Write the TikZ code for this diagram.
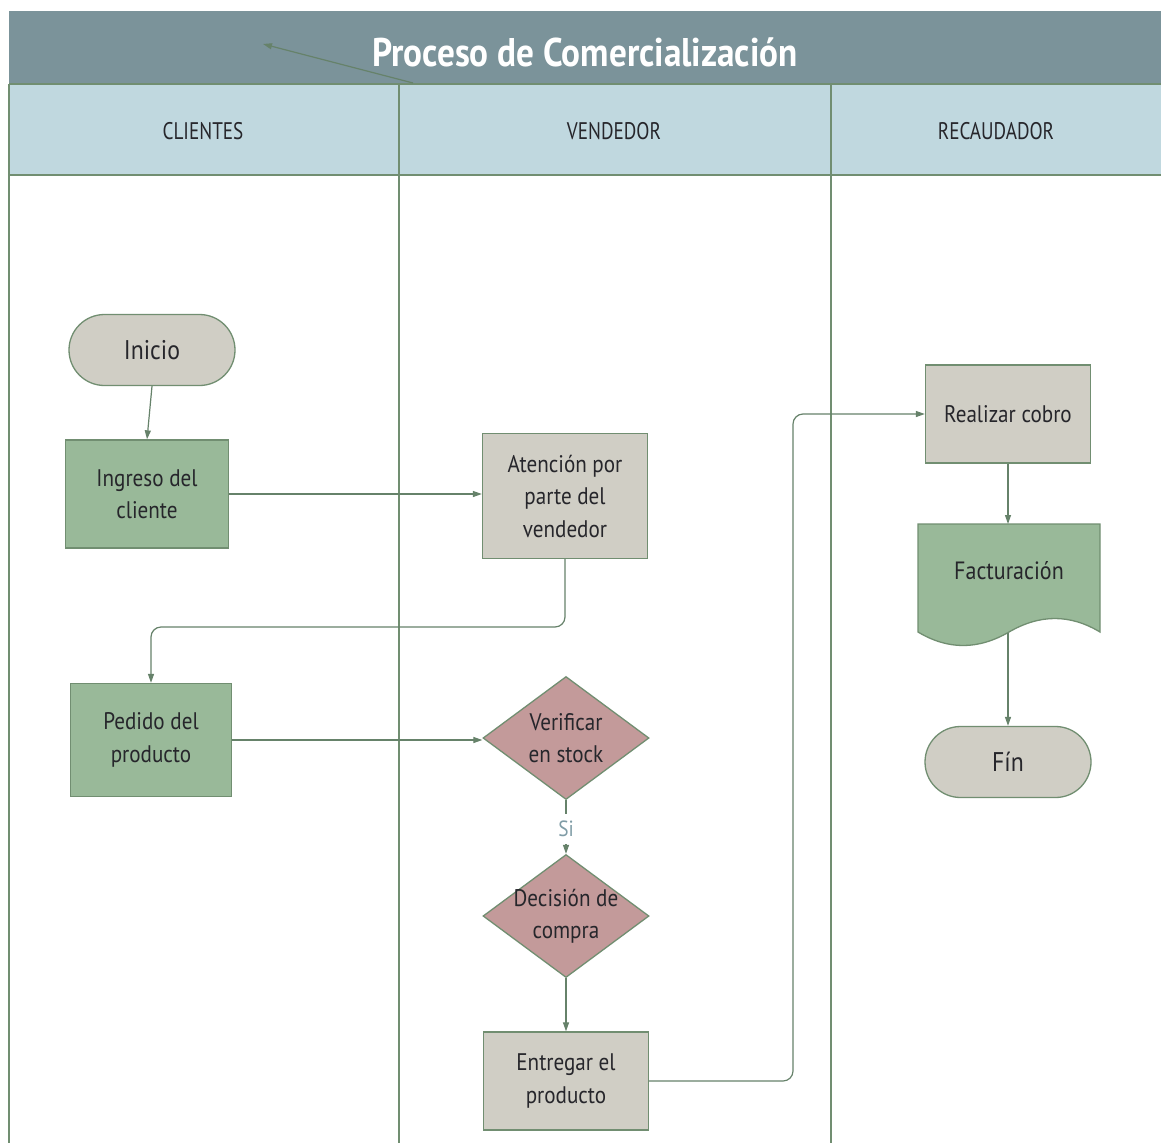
\documentclass[tikz,border=0pt]{standalone}
\usepackage{fontspec}
\setmainfont{PT Sans}[FakeStretch=0.88]
\newfontfamily\headfont{PT Sans}[FakeStretch=0.8]
\usetikzlibrary{shapes.geometric,arrows.meta}
\definecolor{titlebg}{HTML}{7B939A}
\definecolor{headbg}{HTML}{C0D8DF}
\definecolor{lanecol}{HTML}{718E71}
\definecolor{linkcol}{HTML}{66826A}
\definecolor{greyfill}{HTML}{D0CEC5}
\definecolor{greenfill}{HTML}{99B999}
\definecolor{pinkfill}{HTML}{C39A9A}
\definecolor{inkcol}{HTML}{26262B}
\definecolor{silabel}{HTML}{7F9CA6}
\tikzset{
  x=1pt, y=-1pt,
  base/.style={draw=lanecol, line width=1.3pt, text=inkcol, align=center,
    font=\fontsize{24}{32.5}\selectfont, inner sep=0pt},
  greybox/.style={base, rectangle, fill=greyfill},
  greenbox/.style={base, rectangle, fill=greenfill},
  term/.style={base, rectangle, rounded corners=35.5pt, fill=greyfill,
    minimum width=166pt, minimum height=71pt, font=\fontsize{27}{32}\selectfont},
  choice/.style={base, diamond, fill=pinkfill, aspect=1.36, inner sep=-30pt,
    minimum width=166pt, minimum height=123pt},
  link/.style={draw=linkcol, line width=1.2pt, rounded corners=10pt,
    -{Triangle[length=9pt,width=6pt]}},
  lane/.style={draw=lanecol, line width=1.3pt},
  headtext/.style={text=inkcol, font=\headfont\fontsize{24}{26}\selectfont}
}
\begin{document}
\begin{tikzpicture}
\useasboundingbox (0,0) rectangle (1161,1143);
\fill[white] (0,0) rectangle (1161,1143);

% title band and lane headers
\fill[titlebg] (9,11) rectangle (1161,84);
\fill[headbg] (9,84) rectangle (1161,175);
\node[text=white, font=\fontsize{40}{44}\selectfont\bfseries] (title) at (585,52) {Proceso de Comercialización};
\draw[lane] (9,84) -- (1161,84);
\draw[lane] (9,175) -- (1161,175);
\draw[lane] (9,84) -- (9,1143);
\draw[lane] (399,84) -- (399,1143);
\draw[lane] (831,84) -- (831,1143);
\node[headtext] (hcli) at (203,131) {CLIENTES};
\node[headtext] (hven) at (614,131) {VENDEDOR};
\node[headtext] (hrec) at (996,131) {RECAUDADOR};

% loose arrow in the title band
\coordinate (loosea) at (413,83);
\coordinate (looseb) at (263,44);
\draw[link] (loosea) -- (looseb);

% CLIENTES lane
\node[term] (inicio) at (152,350) {Inicio};
\node[greenbox, minimum width=163pt, minimum height=108pt] (ingreso) at (147,494) {Ingreso del\\cliente};
\node[greenbox, minimum width=161pt, minimum height=113pt] (pedido) at (151,740) {Pedido del\\producto};

% VENDEDOR lane
\node[greybox, minimum width=165pt, minimum height=125pt] (atencion) at (565,496) {Atención por\\parte del\\vendedor};
\node[choice] (verificar) at (566,738) {Verificar\\en stock};
\node[choice] (decision) at (566,916) {Decisión de\\compra};
\node[greybox, minimum width=165pt, minimum height=98pt] (entregar) at (566,1081) {Entregar el\\producto};

% RECAUDADOR lane
\node[greybox, minimum width=165pt, minimum height=98pt] (cobro) at (1008,414) {Realizar cobro};
\draw[draw=lanecol, line width=1.3pt, fill=greenfill]
  (918,524) -- (1100,524) -- (1100,632)
  .. controls (1070,614) and (1040,614) .. (1009,632)
  .. controls (978,650) and (948,650) .. (918,632) -- cycle;
\node[text=inkcol, font=\fontsize{25}{32}\selectfont] (factura) at (1009,571) {Facturación};
\coordinate (facturatop) at (1008,524);
\coordinate (facturabot) at (1008,633);
\node[term] (fin) at (1008,762) {Fín};

% connectors
\draw[link] (inicio.south) -- (ingreso.north);
\draw[link] (ingreso.east) -- (atencion.west |- ingreso.east);
\draw[link] (atencion.south) |- (151,627) -- (pedido.north);
\draw[link] (pedido.east) -- (verificar.west |- pedido.east);
\draw[draw=linkcol, line width=1.2pt] (verificar.south) -- (566,814);
\node[text=silabel, font=\fontsize{22}{24}\selectfont] (si) at (566,829) {Si};
\draw[link] (566,844) -- (decision.north);
\draw[link] (decision.south) -- (entregar.north);
\draw[link] (entregar.east) -- (793,1081) |- (cobro.west);
\draw[link] (cobro.south) -- (facturatop);
\draw[link] (facturabot) -- (fin.north);
\end{tikzpicture}
\end{document}
